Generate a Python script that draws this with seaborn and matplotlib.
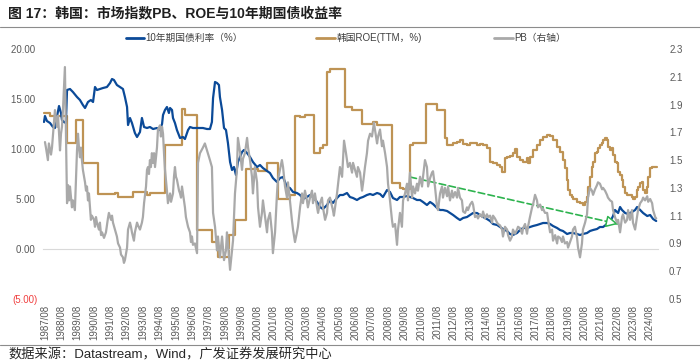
import numpy as np
import pandas as pd
import matplotlib
matplotlib.use("Agg")
import matplotlib.pyplot as plt
from matplotlib.lines import Line2D
import seaborn as sns

# ---------------- data (year, value) ----------------
bond_10y = [
(1987.52,12.7),(1987.58,13.3),(1987.70,12.8),(1987.89,12.6),(1988.07,12.2),(1988.19,12.1),(1988.31,13.2),(1988.44,14.3),
(1988.56,13.6),(1988.62,12.9),(1988.74,12.7),(1988.86,12.6),(1988.93,15.9),(1989.11,16.0),(1989.29,15.7),(1989.54,15.2),
(1989.72,14.9),(1989.90,14.4),(1990.03,14.1),(1990.21,14.7),(1990.39,14.9),(1990.52,14.7),(1990.64,16.2),(1990.76,15.9),
(1990.94,16.0),(1991.13,16.1),(1991.37,16.2),(1991.56,16.6),(1991.68,17.0),(1991.80,16.9),(1991.98,16.4),(1992.17,16.2),
(1992.35,16.0),(1992.47,15.2),(1992.60,14.2),(1992.66,12.4),(1992.78,13.1),(1992.90,12.6),(1993.08,11.6),(1993.21,11.2),
(1993.39,11.7),(1993.51,13.1),(1993.64,12.2),(1993.82,12.1),(1994.00,12.2),(1994.19,12.0),(1994.43,12.1),(1994.61,11.9),
(1994.74,12.5),(1994.80,13.4),(1994.92,13.9),(1995.04,14.2),(1995.16,13.6),(1995.23,14.1),(1995.35,13.9),(1995.41,13.1),
(1995.53,12.6),(1995.65,11.9),(1995.84,11.1),(1996.02,11.2),(1996.14,11.0),(1996.33,11.9),(1996.45,12.2),(1996.63,12.1),
(1996.88,12.1),(1997.06,12.1),(1997.24,12.1),(1997.49,12.0),(1997.67,12.0),(1997.79,12.7),(1997.86,15.1),(1997.98,16.7),
(1998.10,16.6),(1998.22,16.4),(1998.28,15.2),(1998.41,13.9),(1998.53,12.1),(1998.65,11.9),(1998.77,10.6),(1998.90,8.7),
(1999.02,7.9),(1999.14,8.2),(1999.26,7.4),(1999.38,8.7),(1999.51,9.2),(1999.63,9.7),(1999.75,9.9),(1999.94,9.6),
(2000.12,9.2),(2000.30,8.7),(2000.55,8.2),(2000.73,8.4),(2000.91,8.1),(2001.16,7.8),(2001.34,7.6),(2001.52,7.1),
(2001.77,6.7),(2001.95,7.1),(2002.14,7.2),(2002.38,6.2),(2002.56,6.1),(2002.75,5.7),(2002.99,5.6),(2003.18,5.4),
(2003.36,5.0),(2003.60,5.2),(2003.79,5.4),(2003.97,5.2),(2004.22,4.7),(2004.40,4.2),(2004.58,4.0),(2004.83,4.4),
(2005.01,4.9),(2005.19,4.6),(2005.44,5.1),(2005.62,5.4),(2005.81,5.4),(2006.05,5.6),(2006.23,5.2),(2006.42,5.1),
(2006.66,4.9),(2006.85,5.1),(2007.03,5.2),(2007.27,5.4),(2007.46,5.5),(2007.64,5.4),(2007.89,5.6),(2008.07,5.5),
(2008.25,5.2),(2008.50,5.9),(2008.68,5.7),(2008.86,5.1),(2009.11,4.9),(2009.29,5.2),(2009.48,5.2),(2009.72,5.3),
(2009.90,5.2),(2010.09,5.1),(2010.33,4.9),(2010.52,4.9),(2010.70,4.7),(2010.94,4.4),(2011.13,4.7),(2011.31,4.5),
(2011.56,4.1),(2011.74,3.9),(2011.92,3.9),(2012.17,3.8),(2012.35,3.6),(2012.54,3.4),(2012.78,3.1),(2012.96,2.9),
(2013.15,3.1),(2013.39,3.2),(2013.58,3.4),(2013.76,3.6),(2014.00,3.6),(2014.19,3.4),(2014.37,3.2),(2014.61,3.0),
(2014.80,2.8),(2014.98,2.5),(2015.23,2.4),(2015.41,2.2),(2015.59,2.0),(2015.84,1.8),(2016.02,1.5),(2016.20,1.4),
(2016.45,1.6),(2016.63,1.9),(2016.82,2.1),(2017.06,2.1),(2017.24,2.2),(2017.43,2.3),(2017.67,2.4),(2017.86,2.5),
(2018.04,2.6),(2018.29,2.6),(2018.47,2.5),(2018.65,2.3),(2018.90,2.1),(2019.08,1.9),(2019.26,1.8),(2019.51,1.5),
(2019.69,1.6),(2019.87,1.6),(2020.12,1.5),(2020.30,1.4),(2020.48,1.5),(2020.73,1.6),(2020.91,1.8),(2021.10,1.9),
(2021.34,2.0),(2021.52,2.2),(2021.71,2.2),(2021.95,2.5),(2022.14,2.7),(2022.32,3.3),(2022.44,3.9),(2022.63,3.6),
(2022.75,4.2),(2022.87,3.9),(2023.06,3.6),(2023.24,3.5),(2023.48,3.7),(2023.67,3.9),(2023.79,4.2),(2023.98,3.9),
(2024.16,3.6),(2024.41,3.3),(2024.59,3.4),(2024.77,3.0),(2024.96,2.8),
]

roe_ttm = [
(1987.52,13.6),(1987.89,13.3),(1988.93,10.6),(1989.48,12.9),(1989.90,8.6),(1990.82,5.5),(1991.86,5.6),(1992.05,5.2),
(1992.96,5.7),(1993.82,5.4),(1994.00,5.6),(1994.92,10.4),(1995.96,14.0),(1996.14,13.4),(1996.88,1.9),(1997.79,0.7),
(1998.16,-0.8),(1998.83,1.4),(1999.20,2.9),(1999.87,8.0),(2000.61,7.8),(2001.16,8.6),(2001.83,5.0),(2002.56,5.4),
(2002.87,13.3),(2003.18,13.2),(2003.48,13.4),(2004.03,9.6),(2004.40,10.1),(2004.58,10.4),(2004.83,17.7),(2005.01,18.0),
(2005.93,14.2),(2006.36,13.9),(2006.97,12.5),(2007.64,12.7),(2007.89,12.4),(2008.80,6.6),(2009.29,6.1),(2009.48,6.0),
(2009.90,10.4),(2010.09,10.6),(2010.88,14.5),(2011.56,13.9),(2012.04,11.1),(2012.17,10.4),(2012.54,10.6),(2012.78,10.7),
(2012.96,10.9),(2013.15,10.5),(2013.39,10.4),(2013.58,10.6),(2014.00,10.4),(2014.19,10.5),(2014.37,10.4),(2014.61,10.1),
(2014.80,8.7),(2014.98,8.6),(2015.23,8.4),(2015.41,8.2),(2015.53,7.7),(2015.71,9.1),(2015.84,9.2),(2016.02,9.3),
(2016.20,9.6),(2016.33,10.0),(2016.45,9.2),(2016.63,8.9),(2016.82,8.7),(2017.06,9.1),(2017.12,8.6),(2017.24,9.2),
(2017.43,9.9),(2017.67,10.4),(2017.86,10.9),(2018.04,11.2),(2018.29,11.4),(2018.47,11.3),(2018.65,10.9),(2018.90,10.2),
(2019.08,9.7),(2019.26,8.9),(2019.38,8.1),(2019.51,6.9),(2019.57,5.9),(2019.69,5.4),(2019.81,5.2),(2019.87,5.0),
(2020.12,4.7),(2020.30,4.6),(2020.48,4.4),(2020.61,4.7),(2020.73,5.2),(2020.79,6.2),(2020.91,7.2),(2021.03,8.2),
(2021.10,8.7),(2021.22,9.6),(2021.34,9.7),(2021.40,10.1),(2021.52,10.4),(2021.65,10.6),(2021.71,10.9),(2021.83,11.1),
(2021.95,10.9),(2022.01,10.2),(2022.14,9.9),(2022.26,10.1),(2022.32,9.4),(2022.44,8.7),(2022.56,8.6),(2022.63,7.7),
(2022.75,7.4),(2022.87,6.9),(2022.93,6.2),(2023.06,5.6),(2023.18,5.4),(2023.48,5.2),(2023.54,5.0),(2023.67,5.2),
(2023.79,5.9),(2023.85,6.2),(2023.98,6.6),(2024.10,6.7),(2024.16,5.9),(2024.28,5.6),(2024.41,6.2),(2024.47,7.2),
(2024.59,8.1),(2024.71,8.2),(2025.00,8.2),
]

pb_ratio = [
(1987.58,1.63),(1987.64,1.59),(1987.76,1.50),(1987.82,1.62),(1987.95,1.54),(1988.01,1.59),(1988.13,1.77),(1988.19,1.86),
(1988.31,1.74),(1988.38,1.82),(1988.50,1.57),(1988.56,1.69),(1988.62,1.74),(1988.68,1.86),(1988.80,2.17),(1988.86,1.74),
(1988.93,1.19),(1988.99,1.32),(1989.05,1.21),(1989.11,1.31),(1989.23,1.16),(1989.29,1.21),(1989.41,1.14),(1989.48,1.38),
(1989.54,1.57),(1989.60,1.69),(1989.66,1.59),(1989.72,1.52),(1989.78,1.59),(1989.84,1.50),(1989.90,1.43),(1990.03,1.34),
(1990.09,1.28),(1990.15,1.31),(1990.21,1.21),(1990.27,1.26),(1990.33,1.16),(1990.39,1.07),(1990.45,1.10),(1990.58,1.07),
(1990.64,1.02),(1990.70,1.09),(1990.76,1.05),(1990.88,1.00),(1990.94,1.05),(1991.01,0.96),(1991.07,0.98),(1991.19,0.94),
(1991.31,0.98),(1991.43,1.08),(1991.49,1.12),(1991.62,1.07),(1991.68,1.10),(1991.74,1.05),(1991.86,1.00),(1991.98,0.95),
(1992.05,0.90),(1992.17,0.87),(1992.23,0.82),(1992.35,0.80),(1992.41,0.76),(1992.47,0.78),(1992.60,0.87),(1992.66,1.00),
(1992.78,1.05),(1992.84,1.02),(1992.90,0.98),(1993.02,0.92),(1993.08,0.98),(1993.21,1.05),(1993.27,1.03),(1993.39,1.00),
(1993.51,1.05),(1993.57,1.09),(1993.64,1.19),(1993.76,1.31),(1993.82,1.43),(1993.88,1.45),(1993.94,1.40),(1994.00,1.50),
(1994.06,1.45),(1994.12,1.55),(1994.19,1.48),(1994.25,1.55),(1994.31,1.45),(1994.37,1.52),(1994.43,1.59),(1994.49,1.72),
(1994.61,1.75),(1994.67,1.67),(1994.74,1.74),(1994.80,1.69),(1994.86,1.55),(1994.92,1.43),(1995.04,1.28),(1995.10,1.19),
(1995.23,1.26),(1995.29,1.20),(1995.41,1.26),(1995.47,1.38),(1995.53,1.45),(1995.59,1.38),(1995.65,1.36),(1995.78,1.28),
(1995.84,1.26),(1995.90,1.23),(1995.96,1.31),(1996.08,1.21),(1996.14,1.16),(1996.20,1.09),(1996.33,1.02),(1996.45,0.98),
(1996.51,0.91),(1996.57,0.95),(1996.63,0.89),(1996.75,0.90),(1996.88,0.83),(1996.94,1.48),(1997.06,1.55),(1997.24,1.59),
(1997.36,1.62),(1997.49,1.57),(1997.67,1.50),(1997.79,1.45),(1997.86,1.12),(1997.98,1.02),(1998.10,0.85),(1998.16,0.95),
(1998.28,0.80),(1998.41,0.95),(1998.53,0.78),(1998.65,0.85),(1998.71,0.98),(1998.77,0.90),(1998.90,0.71),(1999.08,0.92),
(1999.20,1.26),(1999.32,1.43),(1999.38,1.66),(1999.51,1.56),(1999.63,1.43),(1999.69,1.51),(1999.81,1.55),(1999.94,1.66),
(2000.00,1.59),(2000.12,1.50),(2000.24,1.38),(2000.30,1.26),(2000.42,1.45),(2000.55,1.34),(2000.61,1.16),(2000.73,1.02),
(2000.85,1.12),(2000.91,1.21),(2001.04,1.09),(2001.16,0.98),(2001.22,1.07),(2001.34,1.12),(2001.46,0.98),(2001.52,0.83),
(2001.65,0.98),(2001.77,1.26),(2001.83,1.36),(2001.95,1.43),(2002.07,1.50),(2002.14,1.45),(2002.26,1.31),(2002.38,1.23),
(2002.44,1.34),(2002.56,1.21),(2002.68,1.07),(2002.75,1.00),(2002.87,0.91),(2002.99,0.98),(2003.05,1.02),(2003.18,1.16),
(2003.30,1.26),(2003.36,1.19),(2003.48,1.28),(2003.60,1.21),(2003.66,1.16),(2003.79,1.23),(2003.91,1.28),(2003.97,1.19),
(2004.09,1.26),(2004.22,1.16),(2004.28,1.12),(2004.40,1.19),(2004.52,1.23),(2004.58,1.16),(2004.71,1.07),(2004.83,1.12),
(2004.89,1.21),(2005.01,1.23),(2005.19,1.14),(2005.25,1.10),(2005.44,1.26),(2005.62,1.45),(2005.75,1.38),(2005.87,1.64),
(2005.99,1.55),(2006.11,1.45),(2006.23,1.48),(2006.36,1.41),(2006.42,1.48),(2006.54,1.43),(2006.66,1.38),(2006.72,1.45),
(2006.85,1.41),(2006.97,1.28),(2007.03,1.33),(2007.15,1.45),(2007.27,1.55),(2007.34,1.64),(2007.46,1.69),(2007.58,1.67),
(2007.70,1.77),(2007.76,1.72),(2007.89,1.62),(2007.95,1.67),(2008.07,1.72),(2008.19,1.60),(2008.25,1.64),(2008.38,1.55),
(2008.50,1.45),(2008.56,1.33),(2008.68,1.21),(2008.80,1.07),(2008.86,1.02),(2008.99,1.04),(2009.11,0.89),(2009.17,1.00),
(2009.29,1.12),(2009.41,1.02),(2009.48,1.21),(2009.60,1.26),(2009.72,1.33),(2009.78,1.21),(2009.90,1.41),(2010.03,1.23),
(2010.09,1.31),(2010.21,1.26),(2010.33,1.33),(2010.39,1.28),(2010.52,1.38),(2010.64,1.31),(2010.70,1.38),(2010.82,1.50),
(2010.94,1.45),(2011.01,1.31),(2011.13,1.37),(2011.25,1.41),(2011.31,1.42),(2011.43,1.31),(2011.56,1.16),(2011.62,1.14),
(2011.74,1.26),(2011.86,1.31),(2011.92,1.23),(2012.04,1.30),(2012.17,1.24),(2012.23,1.31),(2012.35,1.21),(2012.47,1.28),
(2012.54,1.23),(2012.66,1.27),(2012.78,1.23),(2012.84,1.30),(2012.96,1.23),(2013.08,1.21),(2013.15,1.13),(2013.27,1.12),
(2013.39,1.16),(2013.45,1.14),(2013.58,1.18),(2013.70,1.20),(2013.76,1.18),(2013.88,1.09),(2014.00,1.10),(2014.06,1.08),
(2014.19,1.11),(2014.31,1.09),(2014.37,1.13),(2014.49,1.08),(2014.61,1.11),(2014.68,1.09),(2014.80,1.10),(2014.92,1.05),
(2014.98,1.10),(2015.10,1.08),(2015.23,1.05),(2015.29,1.04),(2015.41,1.03),(2015.53,1.00),(2015.59,0.95),(2015.71,1.02),
(2015.84,1.00),(2015.90,0.96),(2016.02,0.92),(2016.14,0.95),(2016.20,1.00),(2016.33,0.97),(2016.45,1.00),(2016.51,1.02),
(2016.63,1.01),(2016.76,0.97),(2016.82,1.01),(2016.94,1.04),(2017.06,0.97),(2017.12,1.02),(2017.24,1.09),(2017.37,1.16),
(2017.43,1.18),(2017.55,1.25),(2017.67,1.21),(2017.73,1.16),(2017.86,1.18),(2017.98,1.14),(2018.04,1.15),(2018.16,1.12),
(2018.29,1.12),(2018.35,1.07),(2018.47,0.98),(2018.59,1.00),(2018.65,0.92),(2018.78,0.96),(2018.90,0.90),(2018.96,0.95),
(2019.08,0.94),(2019.20,0.91),(2019.26,0.95),(2019.38,0.90),(2019.51,0.91),(2019.57,0.87),(2019.69,0.91),(2019.81,0.95),
(2019.87,1.00),(2019.99,1.02),(2020.12,0.94),(2020.18,0.87),(2020.30,0.80),(2020.42,0.90),(2020.48,1.00),(2020.61,1.05),
(2020.73,1.11),(2020.79,1.23),(2020.91,1.30),(2021.03,1.28),(2021.10,1.25),(2021.22,1.29),(2021.34,1.32),(2021.40,1.34),
(2021.52,1.33),(2021.65,1.29),(2021.71,1.30),(2021.83,1.28),(2021.95,1.25),(2022.01,1.23),(2022.14,1.21),(2022.26,1.20),
(2022.32,1.14),(2022.44,1.09),(2022.56,1.05),(2022.63,1.07),(2022.75,0.98),(2022.87,1.09),(2022.93,1.11),(2023.06,1.05),
(2023.18,1.07),(2023.24,1.14),(2023.36,1.07),(2023.48,1.14),(2023.54,1.05),(2023.67,1.00),(2023.79,1.09),(2023.85,1.14),
(2023.98,1.19),(2024.10,1.21),(2024.16,1.23),(2024.28,1.21),(2024.41,1.24),(2024.47,1.20),(2024.59,1.22),(2024.71,1.19),
(2024.77,1.14),(2024.90,1.09),(2024.96,1.08),
]

tick_years = list(range(1987, 2025))
tick_labels = [f"{y}/08" for y in tick_years]
left_ticks = [-5, 0, 5, 10, 15, 20]
right_ticks = [0.5, 0.7, 0.9, 1.1, 1.3, 1.5, 1.7, 1.9, 2.1, 2.3]
trend_start = (2009.9, 7.2)   # green dashed trend arrow (left-axis units)
trend_end = (2022.63, 2.5)

series_names = ["10年期国债利率（%）", "韩国ROE(TTM，%)", "PB（右轴）"]
title = "图 17：韩国：市场指数PB、ROE与10年期国债收益率"
source = "数据来源：Datastream，Wind，广发证券发展研究中心"

# ---------------- styling ----------------
BLUE = "#0B4A98"
GOLD = "#BE9354"
GRAY = "#A9A9A9"
GREEN = "#2DB34E"
TXT = "#595959"

sns.set_theme(style="white")
plt.rcParams["font.family"] = ["Liberation Sans", "Noto Sans CJK SC"]
plt.rcParams["axes.unicode_minus"] = False

W, H = 700, 364
fig = plt.figure(figsize=(W / 100, H / 100), dpi=100)
ax = fig.add_axes([43 / W, 1 - 299 / H, 615 / W, 250 / H])
ax2 = ax.twinx()

df_bond = pd.DataFrame(bond_10y, columns=["year", "value"])
df_roe = pd.DataFrame(roe_ttm, columns=["year", "value"])
df_pb = pd.DataFrame(pb_ratio, columns=["year", "value"])

sns.lineplot(data=df_bond, x="year", y="value", ax=ax, color=BLUE, linewidth=1.6,
             estimator=None, sort=False, legend=False, zorder=3)
sns.lineplot(data=df_roe, x="year", y="value", ax=ax, color=GOLD, linewidth=1.6,
             estimator=None, sort=False, legend=False, drawstyle="steps-post", zorder=2)
sns.lineplot(data=df_pb, x="year", y="value", ax=ax2, color=GRAY, linewidth=1.6,
             estimator=None, sort=False, legend=False)

# trend arrow
ax.annotate("", xy=trend_end, xytext=trend_start,
            arrowprops=dict(arrowstyle="-", color=GREEN, lw=1.2, linestyle=(0, (4, 2)),
                            shrinkA=0, shrinkB=0), zorder=4)
head_from = (trend_end[0] - 0.05 * (trend_end[0] - trend_start[0]),
             trend_end[1] - 0.05 * (trend_end[1] - trend_start[1]))
ax.annotate("", xy=trend_end, xytext=head_from,
            arrowprops=dict(arrowstyle="-|>,head_length=0.6,head_width=0.3", ec=GREEN, fc="white",
                            lw=1.1, shrinkA=0, shrinkB=0), zorder=4)

# axes limits / ticks
ax.set_xlim(1987.46, 2025.07)
ax.set_ylim(-5, 20)
ax2.set_ylim(0.5, 2.3)

ax.set_xticks([y + 7 / 12 for y in tick_years])
ax.set_xticklabels(tick_labels)
ax.set_yticks(left_ticks)
ax.set_yticklabels([f"({abs(v):.2f})" if v < 0 else f"{v:.2f} " for v in left_ticks])
ax2.set_yticks(right_ticks)
ax2.set_yticklabels([f"{v:.1f}" for v in right_ticks])

ax.tick_params(axis="x", length=3, width=0.8, color="#D9D9D9", direction="out",
               pad=37, labelsize=7, labelcolor=TXT, labelrotation=90)
ax.tick_params(axis="y", length=0, pad=4, labelsize=7, labelcolor=TXT)
ax2.tick_params(axis="y", length=0, pad=8, labelsize=7, labelcolor=TXT)
for lbl in ax.get_yticklabels():
    if lbl.get_text().startswith("("):
        lbl.set_color("#F04040")
for lbl in ax.get_xticklabels():
    lbl.set_rotation(90)
    lbl.set_va("top")
    lbl.set_ha("center")

for s in ["top", "left", "right"]:
    ax.spines[s].set_visible(False)
ax.spines["bottom"].set_position(("data", 0))
ax.spines["bottom"].set_color("#D9D9D9")
ax.spines["bottom"].set_linewidth(0.8)
for s in ax2.spines.values():
    s.set_visible(False)
ax.set_xlabel("")
ax.set_ylabel("")
ax2.set_xlabel("")
ax2.set_ylabel("")
ax.grid(False)
ax2.grid(False)

# legend
handles = [Line2D([], [], color=c, lw=2) for c in (BLUE, GOLD, GRAY)]
fig.legend(handles, series_names, loc="center", bbox_to_anchor=(346 / W, 1 - 38 / H), ncol=3,
           frameon=False, fontsize=7, handlelength=1.9, handletextpad=0.15, columnspacing=7.5,
           labelcolor="#404040")

# title, rules, source
fig.text(8 / W, 1 - 13 / H, title, fontsize=10, fontweight="bold", ha="left", va="center",
         color="#1F1F1F")
fig.add_artist(Line2D([0, 1], [1 - 27 / H] * 2, transform=fig.transFigure, color="#8C8C8C", lw=0.8))
fig.add_artist(Line2D([0, 1], [1 - 345 / H] * 2, transform=fig.transFigure, color="#8C8C8C", lw=0.8))
fig.text(8 / W, 1 - 355 / H, source, fontsize=9.5, ha="left", va="center", color="#262626")

fig.savefig("out.png", dpi=100)
